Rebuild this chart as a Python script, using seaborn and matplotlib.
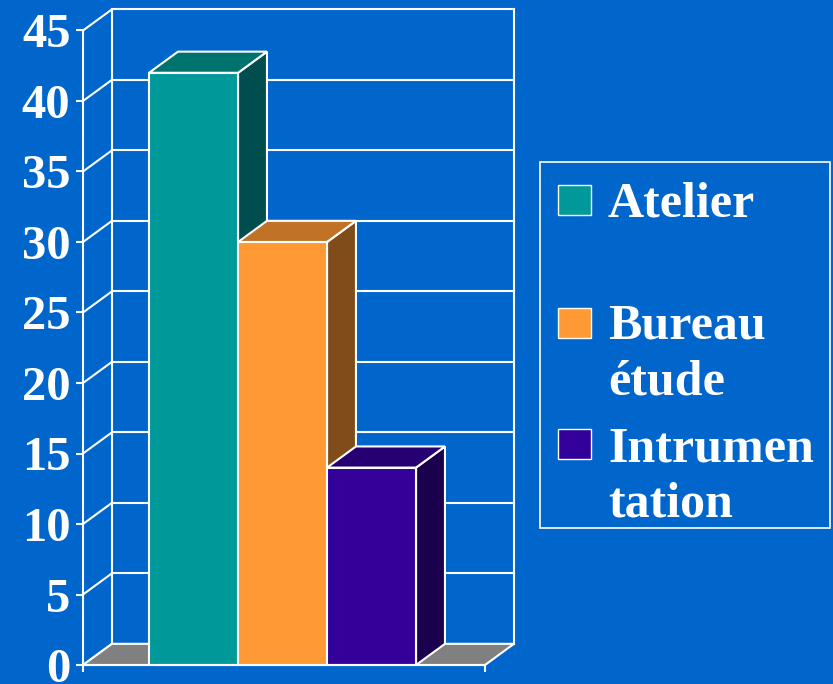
import matplotlib
matplotlib.use("Agg")
import matplotlib.pyplot as plt
from matplotlib.patches import Polygon, Rectangle
import seaborn as sns

# data
categories = ["Atelier", "Bureau étude", "Intrumentation"]
values = [42, 30, 14]
legend_lines = [["Atelier"], ["Bureau", "étude"], ["Intrumen", "tation"]]
y_ticks = [0, 5, 10, 15, 20, 25, 30, 35, 40, 45]

# colours: front face, top face, side face
front_colors = ["#009999", "#FF9933", "#330099"]
top_colors = ["#00736F", "#C07326", "#260073"]
side_colors = ["#004D4D", "#804D1A", "#1A004D"]
bg = "#0066CC"
wall_line = "white"
floor_color = "#808080"

# fake 3d depth (data units)
depth_x = 0.325
depth_y = 1.5
front_left, front_right = -1.242, 3.275

W, H = 833, 684
plt.rcParams["font.family"] = ["Liberation Serif", "DejaVu Serif"]
plt.rcParams["font.weight"] = "bold"

fig = plt.figure(figsize=(W / 100, H / 100), dpi=100, facecolor=bg)
ax = fig.add_axes([83 / W, 19 / H, 437 / W, 657 / H])
ax.set_facecolor(bg)

sns.barplot(x=categories, y=values, hue=categories, palette=front_colors,
            saturation=1, width=1, edgecolor="white", linewidth=1.5,
            legend=False, ax=ax)

back_left = front_left + depth_x
back_right = front_right + depth_x
top_val = y_ticks[-1]

# back wall + left wall lines
for v in y_ticks:
    ax.plot([front_left, back_left], [v, v + depth_y], color=wall_line, lw=1.5, zorder=1, clip_on=False)
    ax.plot([back_left, back_right], [v + depth_y, v + depth_y], color=wall_line, lw=1.5, zorder=1, clip_on=False)
for xb in (back_left, back_right):
    ax.plot([xb, xb], [depth_y, top_val + depth_y], color=wall_line, lw=1.5, zorder=1, clip_on=False)

# floor
floor = Polygon([(front_left, 0), (front_right, 0), (back_right, depth_y), (back_left, depth_y)],
                closed=True, facecolor=floor_color, edgecolor="white", lw=1.5, zorder=1.5, clip_on=False)
ax.add_patch(floor)

# 3d top and side faces for each bar
for i, bar in enumerate(ax.patches[:len(values)]):
    x0 = bar.get_x()
    x1 = x0 + bar.get_width()
    h = bar.get_height()
    bar.set_zorder(4 + 2 * i)
    top = Polygon([(x0, h), (x1, h), (x1 + depth_x, h + depth_y), (x0 + depth_x, h + depth_y)],
                  closed=True, facecolor=top_colors[i], edgecolor="white", lw=1.5, zorder=3 + 2 * i)
    side = Polygon([(x1, 0), (x1 + depth_x, depth_y), (x1 + depth_x, h + depth_y), (x1, h)],
                   closed=True, facecolor=side_colors[i], edgecolor="white", lw=1.5, zorder=3 + 2 * i)
    ax.add_patch(side)
    ax.add_patch(top)

ax.set_xlim(front_left, front_left + 437 / 89)
ax.set_ylim(0, 657 / 14.1)

for s in ("top", "right"):
    ax.spines[s].set_visible(False)
ax.spines["left"].set_bounds(0, top_val)
ax.spines["bottom"].set_bounds(front_left, front_right)
for s in ("left", "bottom"):
    ax.spines[s].set_color("white")
    ax.spines[s].set_linewidth(1.5)
    ax.spines[s].set_zorder(20)

ax.set_yticks(y_ticks)
ax.set_yticklabels([str(v) for v in y_ticks])
ax.set_xticks([front_left, front_right])
ax.set_xticklabels(["", ""])
ax.tick_params(axis="both", colors="white", width=1.5, length=5, direction="out")
ax.tick_params(axis="y", labelsize=35, pad=4)
for lab in ax.get_yticklabels():
    lab.set_fontweight("bold")
ax.set_xlabel("")
ax.set_ylabel("")

# legend, drawn by hand
fig.patches.append(Rectangle((540 / W, 1 - 528 / H), 290 / W, 366 / H, transform=fig.transFigure,
                             facecolor="none", edgecolor="white", lw=1.2))
square_tops = [185, 308, 429]
baselines = [[216.5], [338, 394], [461.5, 516.5]]
for i, lines in enumerate(legend_lines):
    fig.patches.append(Rectangle((558 / W, 1 - (square_tops[i] + 30) / H), 33 / W, 30 / H,
                                 transform=fig.transFigure, facecolor=front_colors[i],
                                 edgecolor="white", lw=1))
    for line, b in zip(lines, baselines[i]):
        fig.text(608 / W, 1 - b / H, line, color="white", fontsize=36, fontweight="bold",
                 va="baseline", ha="left")

fig.savefig("out.png", dpi=100, facecolor=bg)
